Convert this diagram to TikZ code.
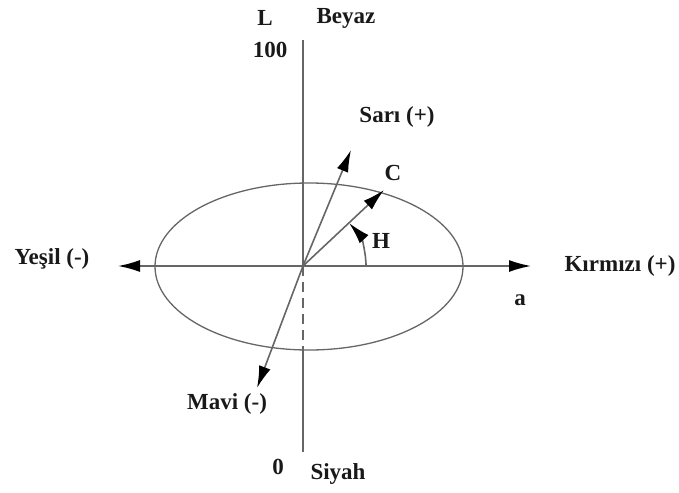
\documentclass[tikz,border=0pt]{standalone}
\usepackage{fontspec}
\setmainfont{Liberation Serif}
\usetikzlibrary{arrows.meta}
\begin{document}
\begin{tikzpicture}[x=1pt,y=-1pt,
  ax/.style={draw=black!60,line width=1.6pt},
  tip/.style={-{Latex[length=22pt,width=12pt,black]}},
  lbl/.style={font=\fontsize{23}{26}\selectfont\bfseries,inner sep=0pt,text=black!90}]
\useasboundingbox (0,0) rectangle (679,492);
\coordinate (O) at (303,266);
\coordinate (top) at (303,40);
\coordinate (bot) at (303,452);
\coordinate (dashend) at (303,350);
\coordinate (left) at (118,266);
\coordinate (right) at (531,266);
\coordinate (sari) at (351,150);
\coordinate (cc) at (384,190);
\coordinate (mavi) at (257,388);
% ellipse
\draw[ax,line width=1.3pt] (309,266.5) ellipse [x radius=154, y radius=83.5];
% axes
\draw[ax] (O) -- (top);
\draw[ax,dashed,dash pattern=on 10pt off 6pt] (O) -- (dashend);
\draw[ax] (dashend) -- (bot);
\draw[ax,tip] (O) -- (left);
\draw[ax,tip] (O) -- (right);
\draw[ax,tip] (O) -- (sari);
\draw[ax,tip] (O) -- (cc);
\draw[ax,tip] (O) -- (mavi);
\draw[ax,tip] (366,266) arc[start angle=0,end angle=-43,radius=63];
% labels
\node[lbl] (L) at (265,18) {L};
\node[lbl] (beyaz) at (346,18) {Beyaz};
\node[lbl] (n100) at (270,50) {100};
\node[lbl] (sarit) at (397,117) {Sarı (+)};
\node[lbl] (ct) at (393,173) {C};
\node[lbl] (ht) at (381,241) {H};
\node[lbl] (yesil) at (52,259) {Yeşil (-)};
\node[lbl] (kirmizi) at (620,266) {Kırmızı (+)};
\node[lbl] (at) at (520,300) {a};
\node[lbl] (mavit) at (227,404) {Mavi (-)};
\node[lbl] (n0) at (278,467) {0};
\node[lbl] (siyah) at (338,474) {Siyah};
\end{tikzpicture}
\end{document}
